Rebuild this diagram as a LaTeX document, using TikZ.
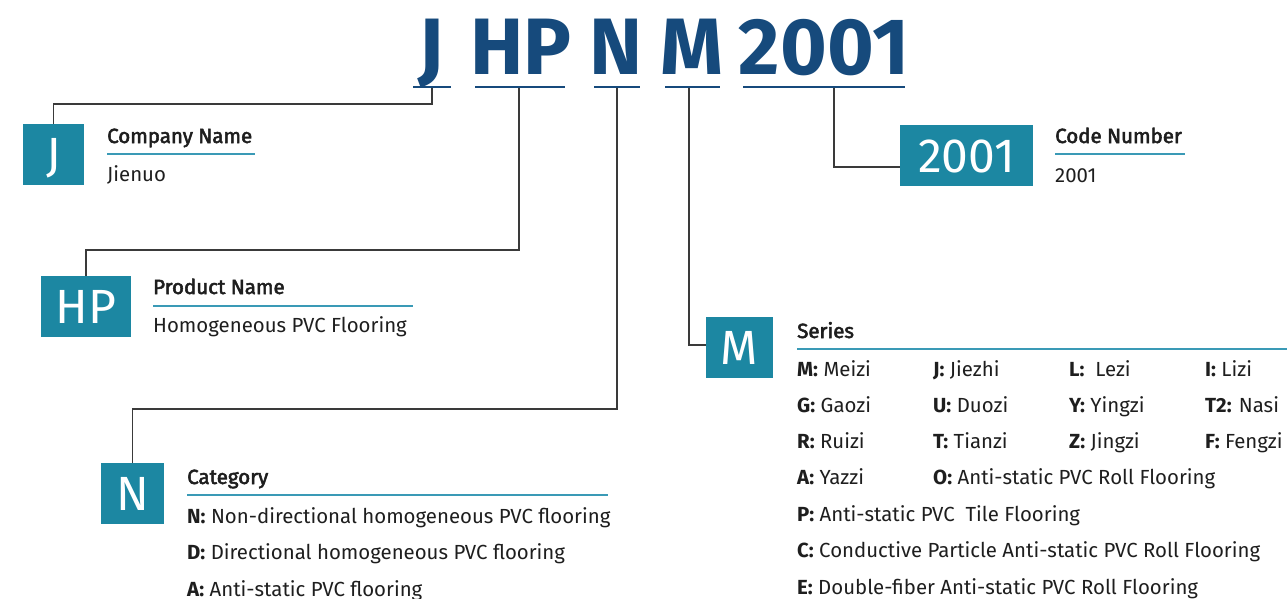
\documentclass[tikz,border=0pt]{standalone}
\usepackage{fontspec}
\setmainfont{Fira Sans}
\newfontfamily\medfont[FakeBold=2.6]{Fira Sans}
\newcommand\fsz[1]{\fontsize{#1pt}{#1pt}\selectfont}
\definecolor{titleblue}{HTML}{164A7C}
\definecolor{boxteal}{HTML}{1C87A2}
\definecolor{ruleteal}{HTML}{3A9AB6}
\definecolor{connc}{HTML}{3A3A3A}
\definecolor{txt}{HTML}{1E1E1E}
\tikzset{
  ttl/.style={anchor=base, inner sep=0, font=\fsz{80}\bfseries, text=titleblue},
  tul/.style={draw=titleblue, line width=2.5pt},
  codebox/.style={fill=boxteal, text=white, inner sep=0, minimum height=61pt, font=\fsz{48}, text height=34pt, text depth=0pt},
  conn/.style={draw=connc, line width=1.3pt},
  head/.style={anchor=base west, inner sep=0, font=\fsz{20.5}\medfont, text=txt},
  item/.style={anchor=base west, inner sep=0, font=\fsz{20.4}, text=txt},
  hrule/.style={draw=ruleteal, line width=1.2pt},
}
\begin{document}
\begin{tikzpicture}[x=1pt,y=-1pt]
\useasboundingbox (0,0) rectangle (1287,599);
% title
\node[ttl] (tJ) at (431,75) {J};
\node[ttl] (tHP) at (521,75) {HP};
\node[ttl] (tN) at (616,75) {N};
\node[ttl] (tM) at (692,75) {M};
\node[ttl] (t2001) at (824,75) {2001};
\coordinate (uJ) at (432,88);
\coordinate (uHP) at (519,88);
\coordinate (uN) at (617,88);
\coordinate (uM) at (689,88);
\coordinate (u2001) at (834,88);
\draw[tul] (413,87) -- (451,87);
\draw[tul] (475,87) -- (565,87);
\draw[tul] (594,87) -- (640,87);
\draw[tul] (665,87) -- (720,87);
\draw[tul] (743,87) -- (905,87);
% boxes
\node[codebox, minimum width=61pt] (bJ) at (53.5,154.5) {J};
\node[codebox, minimum width=90pt] (bHP) at (86,306.5) {HP};
\node[codebox, minimum width=63pt] (bN) at (132.5,493.5) {N};
\node[codebox, minimum width=67pt] (bM) at (739.5,347.5) {M};
\node[codebox, minimum width=133pt] (b2001) at (966.5,155.5) {2001};
% connectors
\coordinate (kJ) at (0,104);
\coordinate (kHP) at (0,250);
\coordinate (kN) at (0,409);
\coordinate (kM) at (0,345);
\coordinate (k2001) at (0,167);
\draw[conn] (uJ) |- (bJ.north |- kJ) -- (bJ.north);
\draw[conn] (uHP) |- (bHP.north |- kHP) -- (bHP.north);
\draw[conn] (uN) |- (bN.north |- kN) -- (bN.north);
\draw[conn] (uM) |- (bM.west |- kM);
\draw[conn] (u2001) |- (b2001.west |- k2001);
% J
\node[head] (hJ) at (107,143) {Company Name};
\draw[hrule] (107,154) -- (255,154);
\node[item] (dJ) at (107,181) {Jienuo};
% HP
\node[head] (hHP) at (153,294) {Product Name};
\draw[hrule] (153,306) -- (413,306);
\node[item] (dHP) at (153,332) {Homogeneous PVC Flooring};
% 2001
\node[head] (h2001) at (1055,143) {Code Number};
\draw[hrule] (1055,154) -- (1185,154);
\node[item] (d2001) at (1055,182) {2001};
% N
\node[head] (hN) at (187,484) {Category};
\draw[hrule] (187,495) -- (608,495);
\node[item] (n1) at (187,523) {\textbf{N:} Non-directional homogeneous PVC flooring};
\node[item] (n2) at (187,559) {\textbf{D:} Directional homogeneous PVC flooring};
\node[item] (n3) at (187,596) {\textbf{A:} Anti-static PVC flooring};
% M
\node[head] (hM) at (797,338) {Series};
\draw[hrule] (797,349) -- (1287,349);
\node[item] (m11) at (797,376) {\textbf{M:} Meizi};
\node[item] (m12) at (933,376) {\textbf{J:} Jiezhi};
\node[item] (m13) at (1069,376) {\textbf{L:}\ \ Lezi};
\node[item] (m14) at (1205,376) {\textbf{I:} Lizi};
\node[item] (m21) at (797,412) {\textbf{G:} Gaozi};
\node[item] (m22) at (933,412) {\textbf{U:} Duozi};
\node[item] (m23) at (1069,412) {\textbf{Y:} Yingzi};
\node[item] (m24) at (1205,412) {\textbf{T2:} Nasi};
\node[item] (m31) at (797,448) {\textbf{R:} Ruizi};
\node[item] (m32) at (933,448) {\textbf{T:} Tianzi};
\node[item] (m33) at (1069,448) {\textbf{Z:} Jingzi};
\node[item] (m34) at (1205,448) {\textbf{F:} Fengzi};
\node[item] (m41) at (797,484) {\textbf{A:} Yazzi};
\node[item] (m42) at (933,484) {\textbf{O:} Anti-static PVC Roll Flooring};
\node[item] (m5) at (797,521) {\textbf{P:} Anti-static PVC\ \ Tile Flooring};
\node[item] (m6) at (797,557) {\textbf{C:} Conductive Particle Anti-static PVC Roll Flooring};
\node[item] (m7) at (797,594) {\textbf{E:} Double-fiber Anti-static PVC Roll Flooring};
\end{tikzpicture}
\end{document}
